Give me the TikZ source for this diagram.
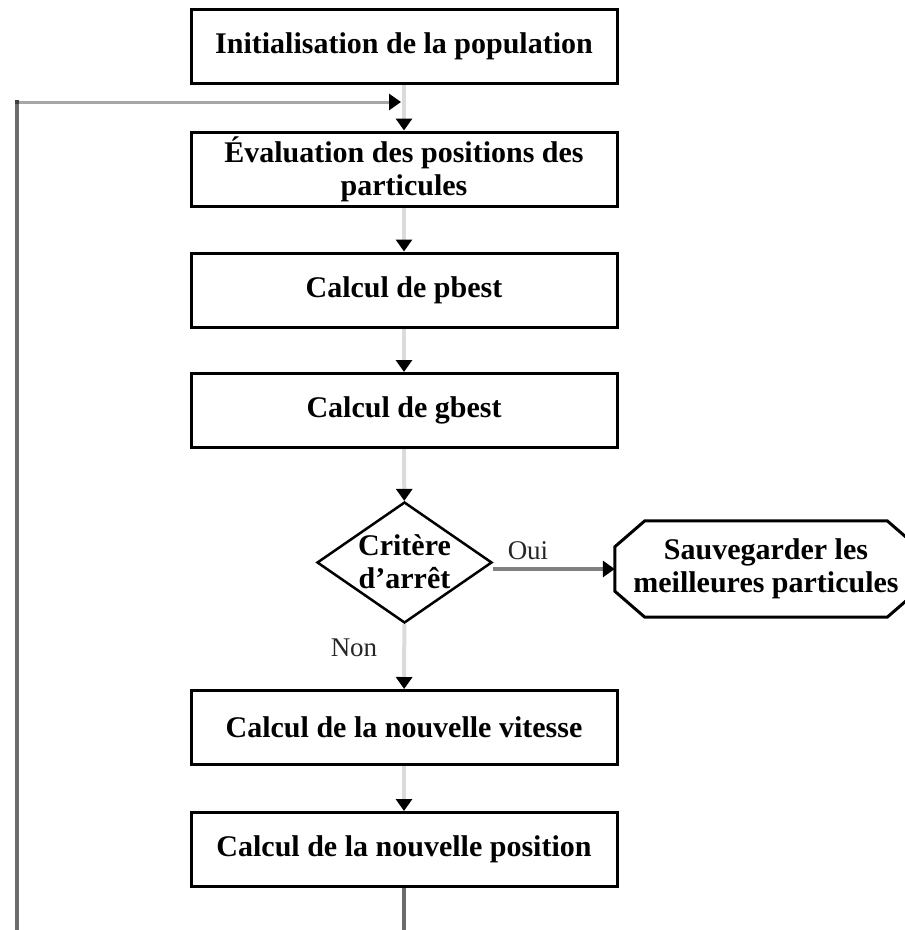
\documentclass[tikz,border=0pt]{standalone}
\usepackage{fontspec}
\setmainfont{Liberation Serif}
\usetikzlibrary{shapes.geometric,arrows.meta,calc}
\newcommand{\flatlines}[1]{\smash{\raisebox{-9pt}{\makebox[0pt]{\begin{tabular}{@{}c@{}}#1\end{tabular}}}}}
\begin{document}
\begin{tikzpicture}[x=1pt,y=-1pt,
  txt/.style={font=\bfseries\fontsize{30}{33}\selectfont},
  box/.style={txt,draw=black,line width=3pt,minimum width=426pt,minimum height=74pt,inner sep=0pt,align=center},
  tip/.style={-{Triangle[width=16pt,length=12pt,color=black]}},
  link/.style={tip,draw=black!14,line width=4pt},
  lbl/.style={font=\fontsize{27}{30}\selectfont,text=black!85}
]
\useasboundingbox (0,0) rectangle (905,930);
\clip (0,0) rectangle (905,930);
\node[box] (b1) at (404,46) {Initialisation de la population};
\node[box] (b2) at (404,169) {Évaluation des positions des\\particules};
\node[box] (b3) at (404,290) {Calcul de pbest};
\node[box] (b4) at (404,410.5) {Calcul de gbest};
\node[txt,draw=black,line width=2.5pt,shape=diamond,minimum width=175pt,minimum height=121pt,inner sep=0pt] (d) at (404.5,562.5) {\flatlines{Critère\\d'arrêt}};
\node[txt,minimum width=302pt,minimum height=96pt,inner sep=0pt,align=center] (o) at (766,569) {Sauvegarder les\\meilleures particules};
\draw[black,line width=3pt,line join=miter]
  ($(o.north west)+(30,0)$) -- ($(o.north east)+(-30,0)$) -- ($(o.north east)+(0,26)$)
  -- ($(o.south east)+(0,-26)$) -- ($(o.south east)+(-30,0)$) -- ($(o.south west)+(30,0)$)
  -- ($(o.south west)+(0,-26)$) -- ($(o.north west)+(0,26)$) -- cycle;
\node[box] (b5) at (404,727.5) {Calcul de la nouvelle vitesse};
\node[box] (b6) at (404,849.5) {Calcul de la nouvelle position};
\draw[link] (b1) -- (b2);
\draw[link] (b2) -- (b3);
\draw[link] (b3) -- (b4);
\draw[link] (b4) -- (d);
\draw[link] (d) -- (b5);
\draw[link] (b5) -- (b6);
\draw[tip,draw=black!50,line width=3.5pt] (o.west -| d.east) -- (o.west);
\node[lbl] (oui) at (528,551) {Oui};
\node[lbl] (non) at (354,648) {Non};
\coordinate (c1) at (404,945);
\coordinate (c2) at (17,945);
\coordinate (c3) at (17,102);
\coordinate (c4) at (401,102);
\draw[draw=black!58,line width=4pt] (b6.south) -- (c1) -- (c2) -- (c3);
\draw[tip,draw=black!35,line width=3pt] (c3) -- (c4);
\fill[black!75] (15,100) rectangle (19,104);
\end{tikzpicture}
\end{document}
